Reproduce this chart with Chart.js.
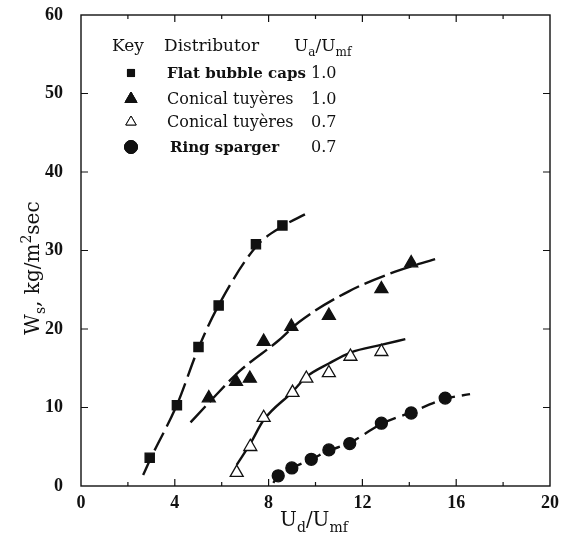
<!DOCTYPE html>
<html><head><meta charset="utf-8">
<script src="https://cdn.jsdelivr.net/npm/chart.js@4.4.1/dist/chart.umd.min.js"></script>
<style>html,body{margin:0;padding:0;background:#fff}#wrap{width:562px;height:544px;position:relative}</style>
</head><body><div id="wrap"><canvas id="c" width="562" height="544"></canvas></div>
<script>
// ---- data ----
const xTicks = [0, 4, 8, 12, 16, 20];
const yTicks = [0, 10, 20, 30, 40, 50, 60];

const flatCapsX = [2.93, 4.09, 5.01, 5.87, 7.46, 8.59];
const flatCapsY = [3.6, 10.3, 17.7, 23.0, 30.8, 33.2];

const conical10X = [5.45, 6.61, 7.20, 7.79, 8.97, 10.57, 12.81, 14.08];
const conical10Y = [11.2, 13.3, 13.7, 18.4, 20.3, 21.7, 25.1, 28.4];

const conical07X = [6.64, 7.22, 7.79, 9.02, 9.61, 10.57, 11.49, 12.81];
const conical07Y = [1.7, 5.0, 8.7, 11.9, 13.7, 14.4, 16.5, 17.1];

const ringX = [8.41, 8.99, 9.82, 10.57, 11.46, 12.81, 14.08, 15.53];
const ringY = [1.3, 2.3, 3.4, 4.6, 5.4, 8.0, 9.3, 11.2];

// fitted curves
const flatCurveX = [2.65, 3.0, 4.1, 5.0, 5.9, 7.5, 8.6, 9.55];
const flatCurveY = [1.4, 3.7, 10.4, 17.5, 23.2, 30.6, 33.1, 34.6];

const con10CurveX = [4.67, 5.45, 6.75, 8.45, 9.3, 11.42, 13.4, 15.1];
const con10CurveY = [8.1, 10.6, 14.6, 18.6, 20.9, 24.8, 27.3, 28.9];

const con07CurveX = [6.64, 7.22, 7.79, 9.02, 9.61, 10.57, 11.49, 12.84, 13.83];
const con07CurveY = [2.7, 5.4, 8.4, 12.0, 13.9, 15.6, 17.0, 18.0, 18.7];

const ringCurveX = [8.2, 8.41, 8.99, 9.82, 10.57, 11.46, 12.81, 14.08, 15.53, 16.59];
const ringCurveY = [0.4, 1.3, 2.3, 3.4, 4.5, 5.5, 7.9, 9.4, 11.1, 11.7];

const legendNames = ['Flat bubble caps', 'Conical tuyères', 'Conical tuyères', 'Ring sparger'];
const legendRatios = ['1.0', '1.0', '0.7', '0.7'];

// ---- build ----
const pts = (xs, ys) => xs.map((x, i) => ({x, y: ys[i]}));
const INK = '#111';
const SERIF = '"DejaVu Serif", "Liberation Serif", serif';
const TICKFONT = '"Liberation Serif", serif';

function pointSet(xs, ys, style, fill, r) {
  return { type: 'scatter', data: pts(xs, ys), showLine: false, order: 0,
    pointStyle: style, pointRadius: r, pointHoverRadius: r,
    pointBackgroundColor: fill, pointBorderColor: INK, pointBorderWidth: 1.3 };
}
function curveSet(xs, ys, dash) {
  return { type: 'scatter', data: pts(xs, ys), showLine: true, order: 1,
    pointRadius: 0, borderColor: INK, borderWidth: 2.4, borderDash: dash,
    cubicInterpolationMode: 'monotone', fill: false };
}

function richText(ctx, parts, x, y, size, align) {
  let w = 0;
  const fonts = parts.map(p => (p[1] === 0 ? size : Math.round(size * 0.72)) + 'px ' + SERIF);
  parts.forEach((p, i) => { ctx.font = fonts[i]; w += ctx.measureText(p[0]).width; });
  let cx = align === 'center' ? x - w / 2 : x;
  ctx.textBaseline = 'alphabetic'; ctx.textAlign = 'left';
  parts.forEach((p, i) => {
    ctx.font = fonts[i];
    const dy = p[1] === -1 ? size * 0.3 : p[1] === 1 ? -size * 0.4 : 0;
    ctx.fillText(p[0], cx, y + dy);
    cx += ctx.measureText(p[0]).width;
  });
}

const decor = {
  id: 'decor',
  beforeDatasetsDraw(chart) {
    const {ctx, chartArea: a, scales: {x, y}} = chart;
    ctx.save();
    ctx.strokeStyle = INK; ctx.lineWidth = 1.4;
    ctx.strokeRect(a.left, a.top, a.right - a.left, a.bottom - a.top);
    ctx.lineWidth = 1.2;
    for (let v = 2; v < 20; v += 2) {
      const px = x.getPixelForValue(v);
      const L = v % 4 === 0 ? 7 : 4;
      ctx.beginPath();
      ctx.moveTo(px, a.bottom); ctx.lineTo(px, a.bottom - L);
      ctx.moveTo(px, a.top); ctx.lineTo(px, a.top + L);
      ctx.stroke();
    }
    for (let v = 10; v < 60; v += 10) {
      const py = y.getPixelForValue(v);
      ctx.beginPath();
      ctx.moveTo(a.left, py); ctx.lineTo(a.left + 7, py);
      ctx.moveTo(a.right, py); ctx.lineTo(a.right - 7, py);
      ctx.stroke();
    }
    ctx.restore();
  },
  afterDraw(chart) {
    const {ctx} = chart;
    ctx.save();
    ctx.fillStyle = INK;
    // axis titles
    richText(ctx, [['U', 0], ['d', -1], ['/U', 0], ['mf', -1]], 314, 526, 20, 'center');
    ctx.save();
    ctx.translate(39, 268);
    ctx.rotate(-Math.PI / 2);
    richText(ctx, [['W', 0], ['s', -1], [', kg/m', 0], ['2', 1], ['sec', 0]], 0, 0, 20, 'center');
    ctx.restore();
    // legend header
    ctx.font = '17px ' + SERIF;
    ctx.textAlign = 'left'; ctx.textBaseline = 'alphabetic';
    ctx.fillText('Key', 112, 51);
    ctx.fillText('Distributor', 164, 51);
    richText(ctx, [['U', 0], ['a', -1], ['/U', 0], ['mf', -1]], 294, 51, 17, 'left');
    // rows
    const rowsY = [73, 99, 122, 147];
    const styles = ['rect', 'triangle', 'triangle', 'circle'];
    const fills = [INK, INK, '#fff', INK];
    const radii = [5, 7, 6, 6.5];
    const bold = [true, false, false, true];
    const nameX = [167, 167, 167, 170];
    for (let i = 0; i < 4; i++) {
      Chart.helpers.drawPoint(ctx, {pointStyle: styles[i], radius: radii[i], borderWidth: 1.3},
        131, rowsY[i]);
      ctx.fillStyle = fills[i]; ctx.strokeStyle = INK;
      ctx.fill(); ctx.stroke();
      ctx.fillStyle = INK;
      ctx.font = (bold[i] ? 'bold 15px ' : '16px ') + SERIF;
      ctx.textBaseline = 'middle'; ctx.textAlign = 'left';
      ctx.fillText(legendNames[i], nameX[i], rowsY[i] + 1);
      ctx.font = '16px ' + SERIF;
      ctx.fillText(legendRatios[i], 311, rowsY[i] + 1);
    }
    ctx.restore();
  }
};

new Chart(document.getElementById('c'), {
  type: 'scatter',
  data: { datasets: [
    pointSet(flatCapsX, flatCapsY, 'rect', INK, 6.5),
    pointSet(conical10X, conical10Y, 'triangle', INK, 7.5),
    pointSet(conical07X, conical07Y, 'triangle', '#fff', 7.5),
    pointSet(ringX, ringY, 'circle', INK, 6),
    curveSet(flatCurveX, flatCurveY, [20, 7]),
    curveSet(con10CurveX, con10CurveY, [22, 6]),
    curveSet(con07CurveX, con07CurveY, []),
    curveSet(ringCurveX, ringCurveY, [14, 7])
  ]},
  options: {
    responsive: false, animation: false, devicePixelRatio: 1,
    layout: { padding: { top: 15, right: 12, left: 0, bottom: 0 } },
    plugins: { legend: { display: false }, tooltip: { enabled: false } },
    scales: {
      x: { type: 'linear', min: 0, max: 20,
        afterFit(s) { s.height = 58; s.paddingLeft = 0; s.paddingRight = 0; },
        afterBuildTicks(s) { s.ticks = xTicks.map(v => ({value: v})); },
        grid: { display: false, drawTicks: false }, border: { display: false },
        ticks: { padding: 7, color: INK, font: { family: TICKFONT, size: 18, weight: 'bold' } } },
      y: { type: 'linear', min: 0, max: 60,
        afterFit(s) { s.width = 81; s.paddingTop = 0; s.paddingBottom = 0; },
        afterBuildTicks(s) { s.ticks = yTicks.map(v => ({value: v})); },
        grid: { display: false, drawTicks: false }, border: { display: false },
        ticks: { padding: 18, color: INK, font: { family: TICKFONT, size: 18, weight: 'bold' } } }
    }
  },
  plugins: [decor]
});
</script></body></html>
